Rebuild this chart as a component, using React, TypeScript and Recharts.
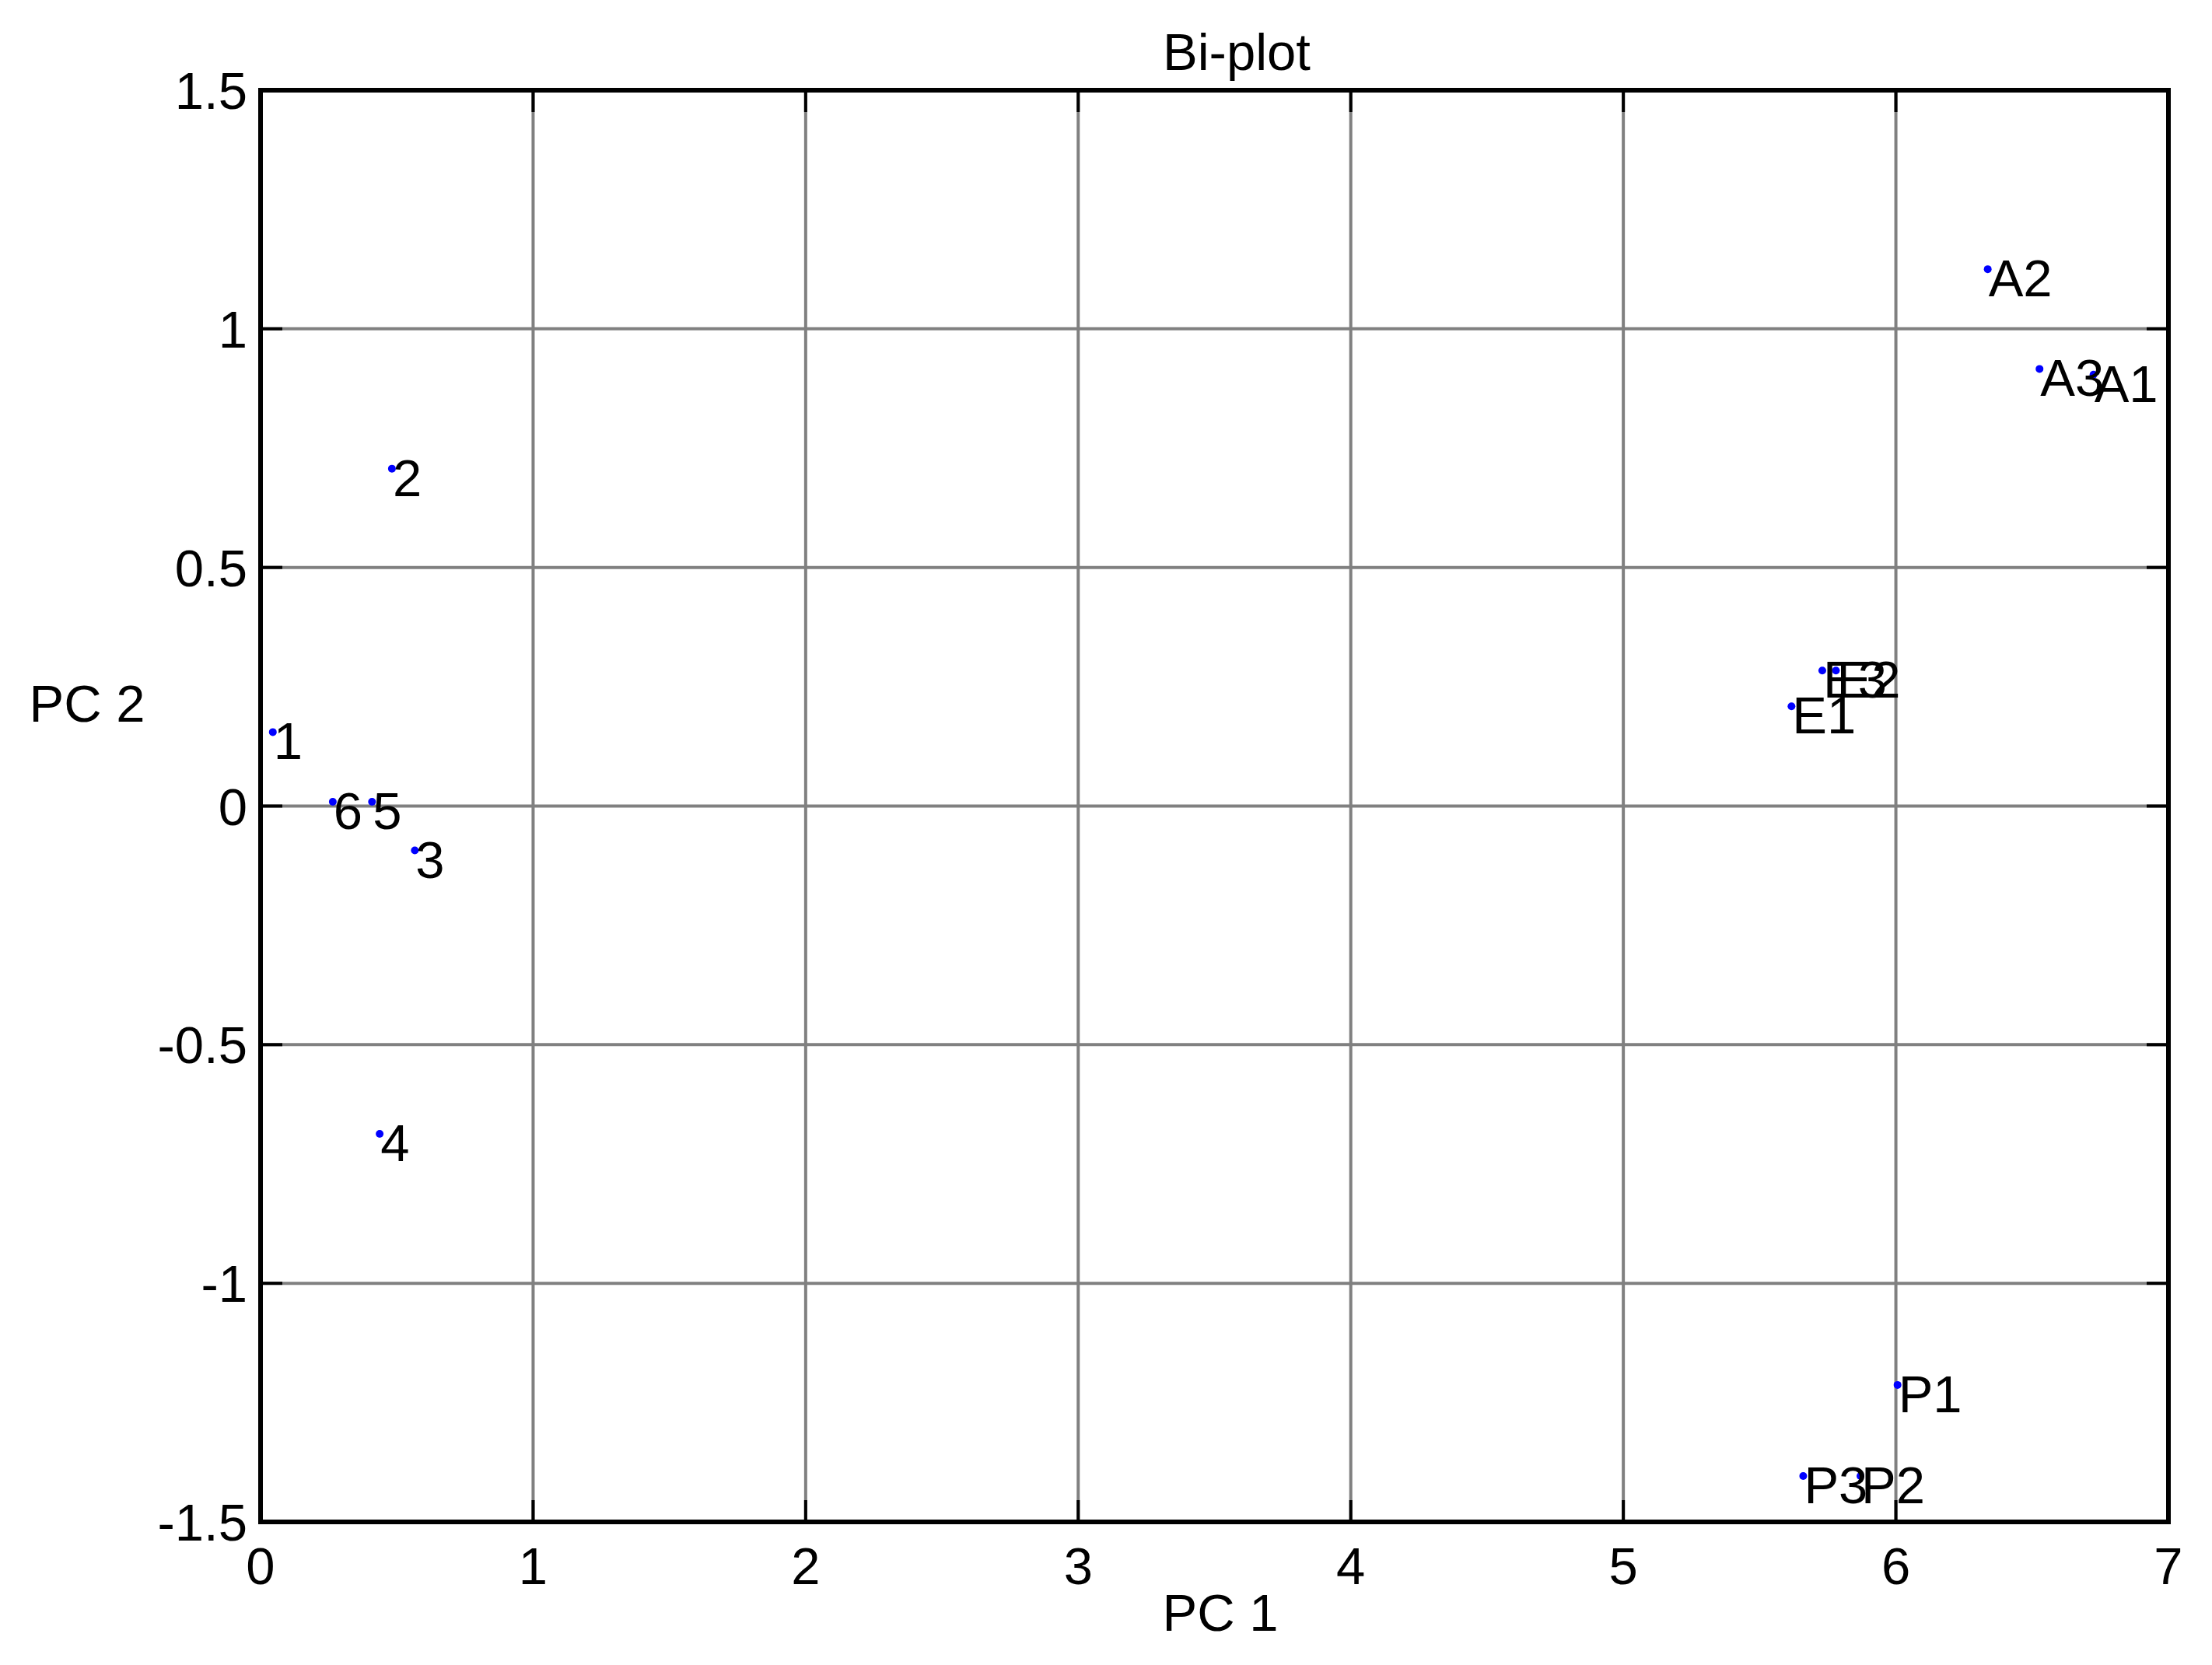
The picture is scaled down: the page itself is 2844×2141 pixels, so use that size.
import React from 'react';
import { ScatterChart, Scatter, XAxis, YAxis, CartesianGrid, ReferenceArea, Label } from 'recharts';

// sample labels and their scores on the first two components
const names = ['1', '2', '3', '4', '5', '6', 'A1', 'A2', 'A3', 'E1', 'E2', 'E3', 'P1', 'P2', 'P3'];
const pc1 = [0.045, 0.482, 0.566, 0.437, 0.409, 0.265, 6.725, 6.337, 6.527, 5.617, 5.78, 5.73, 6.006, 5.87, 5.66];
const pc2 = [0.155, 0.707, -0.093, -0.687, 0.009, 0.009, 0.904, 1.125, 0.916, 0.209, 0.284, 0.284, -1.213, -1.404, -1.404];

const xTicks = [0, 1, 2, 3, 4, 5, 6, 7];
const yTicks = [-1.5, -1, -0.5, 0, 0.5, 1, 1.5];

const W = 2844;
const H = 2141;
const PLOT = { left: 335, right: 2788, top: 116, bottom: 1957 };
const FONT = '"Liberation Sans", Arial, sans-serif';
const FS = 67;
const TICK_LEN = 28;

const XTick = (props: any) => {
    const { x, payload } = props;
    return (
        <g>
            <line x1={x} x2={x} y1={PLOT.bottom} y2={PLOT.bottom - TICK_LEN} stroke="#000" strokeWidth={4} />
            <line x1={x} x2={x} y1={PLOT.top} y2={PLOT.top + TICK_LEN} stroke="#000" strokeWidth={4} />
            <text x={x} y={PLOT.bottom + 80} textAnchor="middle" fontFamily={FONT} fontSize={FS} fill="#000">
                {payload.value}
            </text>
        </g>
    );
};

const YTick = (props: any) => {
    const { y, payload } = props;
    return (
        <g>
            <line x1={PLOT.left} x2={PLOT.left + TICK_LEN} y1={y} y2={y} stroke="#000" strokeWidth={4} />
            <line x1={PLOT.right} x2={PLOT.right - TICK_LEN} y1={y} y2={y} stroke="#000" strokeWidth={4} />
            <text x={PLOT.left - 17} y={y + 24} textAnchor="end" fontFamily={FONT} fontSize={FS} fill="#000">
                {String(payload.value)}
            </text>
        </g>
    );
};

const PointMark = (props: any) => {
    const { cx, cy, payload } = props;
    return (
        <g>
            <circle cx={cx} cy={cy} r={5} fill="#0000ff" />
            <text x={cx + 1} y={cy + 35} fontFamily={FONT} fontSize={FS} fill="#000">
                {payload.name}
            </text>
        </g>
    );
};

export default function App() {
    const data = names.map((name, i) => ({ name, pc1: pc1[i], pc2: pc2[i] }));

    return (
        <div style={{ position: 'absolute', left: 0, top: 0, width: W, height: H, background: '#fff' }}>
            <ScatterChart
                width={W}
                height={H}
                margin={{ top: PLOT.top, right: W - PLOT.right, bottom: 0, left: 0 }}
            >
                <CartesianGrid stroke="#808080" strokeWidth={4} horizontalValues={yTicks} verticalValues={xTicks} />
                <XAxis
                    type="number"
                    dataKey="pc1"
                    domain={[0, 7]}
                    ticks={xTicks}
                    height={H - PLOT.bottom}
                    tick={<XTick />}
                    tickLine={false}
                    axisLine={false}
                    allowDataOverflow
                >
                    <Label
                        content={() => (
                            <text x={1569} y={2097} textAnchor="middle" fontFamily={FONT} fontSize={FS} fill="#000">
                                PC 1
                            </text>
                        )}
                    />
                </XAxis>
                <YAxis
                    type="number"
                    dataKey="pc2"
                    domain={[-1.5, 1.5]}
                    ticks={yTicks}
                    width={PLOT.left}
                    tick={<YTick />}
                    tickLine={false}
                    axisLine={false}
                    allowDataOverflow
                >
                    <Label
                        content={() => (
                            <text x={112} y={928} textAnchor="middle" fontFamily={FONT} fontSize={FS} fill="#000">
                                PC 2
                            </text>
                        )}
                    />
                </YAxis>
                <ReferenceArea x1={0} x2={7} y1={-1.5} y2={1.5} fill="none" stroke="#000" strokeWidth={6} ifOverflow="visible" />
                <Scatter data={data} shape={<PointMark />} isAnimationActive={false} />
            </ScatterChart>
            <svg width={W} height={H} style={{ position: 'absolute', left: 0, top: 0, pointerEvents: 'none' }}>
                <text x={1590} y={90} textAnchor="middle" fontFamily={FONT} fontSize={FS} fill="#000">
                    Bi-plot
                </text>
            </svg>
        </div>
    );
}
